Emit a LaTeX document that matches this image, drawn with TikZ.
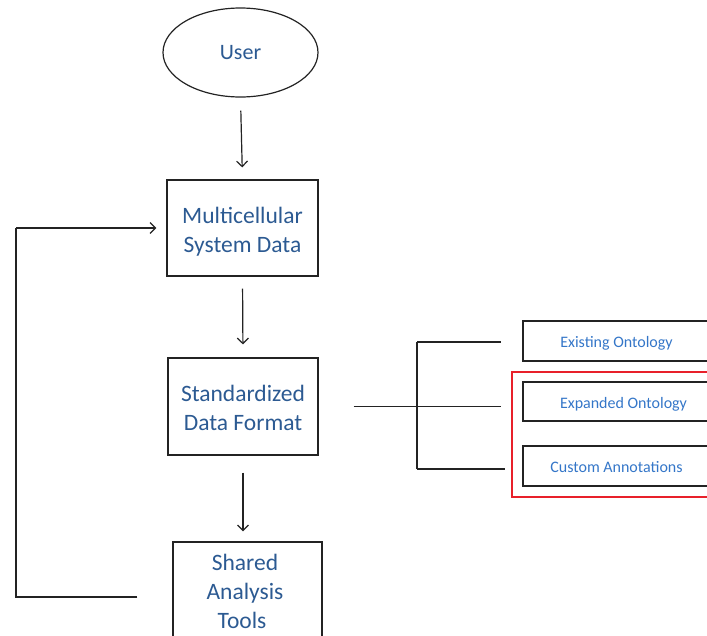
\documentclass[tikz,border=0pt]{standalone}
\usepackage{fontspec}
\setmainfont{Carlito}
\usetikzlibrary{arrows.meta,shapes.geometric}
\definecolor{txtdark}{RGB}{44,90,146}
\definecolor{txtlight}{RGB}{52,118,200}
\definecolor{redbox}{RGB}{232,32,42}
\definecolor{linec}{RGB}{35,35,35}
\tikzset{
  flowbox/.style={draw=linec, line width=1.2pt, rectangle, inner sep=0pt},
  flowtxt/.style={align=center, inner sep=0pt, text=txtdark, font=\fontsize{23.5}{29}\selectfont},
  sidebox/.style={draw=linec, line width=1.2pt, rectangle, inner sep=0pt},
  sidetxt/.style={inner sep=0pt, text=txtlight, font=\fontsize{16}{19}\selectfont},
  conn/.style={draw=linec, line width=1.2pt},
  arr/.style={conn, -{Straight Barb[length=5.5pt,width=11pt]}},
}
\begin{document}
\begin{tikzpicture}[x=1pt,y=-1pt]
\useasboundingbox (0,0) rectangle (707,635);
\clip (0,0) rectangle (707,635);
\node[ellipse, draw=linec, line width=1.2pt, minimum width=155pt, minimum height=89pt, inner sep=0pt,
  text=txtdark, font=\fontsize{22}{26}\selectfont] (user) at (240.5,52.5) {User};
\node[flowbox, minimum width=151pt, minimum height=96pt] (msd) at (242.5,228) {};
\node[flowtxt] (msdtxt) at (242.5,232) {Multicellular\\System Data};
\node[flowbox, minimum width=150pt, minimum height=97pt] (sdf) at (243,406.5) {};
\node[flowtxt] (sdftxt) at (243,407.5) {Standardized\\Data Format};
\node[flowbox, minimum width=149pt, minimum height=110pt] (sat) at (247.5,597) {};
\node[flowtxt] (sattxt) at (245,591) {Shared\\Analysis\\\hspace*{-6pt}Tools};
\node[sidebox, minimum width=187pt, minimum height=40pt] (exist) at (616.5,341) {};
\node[sidetxt] (existtxt) at (616.5,343) {Existing Ontology};
\node[sidebox, minimum width=187pt, minimum height=39pt] (expand) at (616.5,401.5) {};
\node[sidetxt] (expandtxt) at (623.5,404.5) {Expanded Ontology};
\node[sidebox, minimum width=187pt, minimum height=40pt] (cust) at (616.5,466) {};
\node[sidetxt] (custtxt) at (616.5,467) {Custom Annotations};
\node[draw=redbox, line width=1.5pt, rectangle, inner sep=0pt, minimum width=200pt, minimum height=125pt] (grp) at (612,434.5) {};
% main flow
\draw[arr, shorten <=13pt, shorten >=12pt] (user.south) -- (msd.north);
\draw[arr, shorten <=12pt, shorten >=13pt] (msd.south) -- (sdf.north);
\draw[arr, shorten <=17pt, shorten >=10pt] (sdf.south) -- (sdf.south |- sat.north);
% feedback loop
\coordinate (lb) at (16,597);
\coordinate (lt) at (16,228);
\draw[arr, shorten >=10pt] (lt) -- (msd.west);
\draw[conn, shorten <=35pt] (sat.west) -- (lb) -- (lt);
% branch
\coordinate (j) at (423,406.5);
\coordinate (bt) at (417,342);
\coordinate (bm) at (417,406.5);
\coordinate (bb) at (417,469);
\draw[conn, shorten <=35pt] (sdf.east) -- (j);
\draw[conn] (bt) -- (bb);
\draw[conn, shorten >=21pt] (bt) -- (exist.west |- bt);
\draw[conn, shorten >=21pt] (bm) -- (expand.west |- bm);
\draw[conn, shorten >=17pt] (bb) -- (cust.west |- bb);
\end{tikzpicture}
\end{document}
